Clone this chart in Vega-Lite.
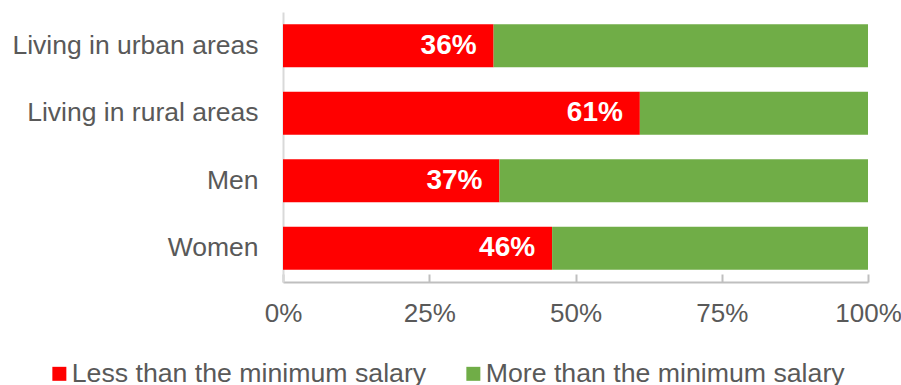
{
  "$schema": "https://vega.github.io/schema/vega-lite/v6.json",
  "width": 585,
  "height": 270,
  "autosize": {"type": "none"},
  "padding": {"left": 283, "top": 12, "right": 33, "bottom": 103},
  "background": "white",
  "config": {
    "view": {"stroke": null},
    "font": "Liberation Sans",
    "text": {"font": "Liberation Sans"}
  },
  "data": {
    "values": [
      {"group": "Living in urban areas", "type": "Less than the minimum salary", "value": 0.36},
      {"group": "Living in urban areas", "type": "More than the minimum salary", "value": 0.64},
      {"group": "Living in rural areas", "type": "Less than the minimum salary", "value": 0.61},
      {"group": "Living in rural areas", "type": "More than the minimum salary", "value": 0.39},
      {"group": "Men", "type": "Less than the minimum salary", "value": 0.37},
      {"group": "Men", "type": "More than the minimum salary", "value": 0.63},
      {"group": "Women", "type": "Less than the minimum salary", "value": 0.46},
      {"group": "Women", "type": "More than the minimum salary", "value": 0.54}
    ]
  },
  "encoding": {
    "y": {
      "field": "group",
      "type": "nominal",
      "sort": ["Living in urban areas", "Living in rural areas", "Men", "Women"],
      "scale": {"paddingInner": 0.365, "paddingOuter": 0.1825},
      "axis": {
        "title": null,
        "ticks": false,
        "labelFontSize": 26.5,
        "labelColor": "#595959",
        "labelPadding": 25,
        "labelLimit": 400,
        "domainColor": "#d9d9d9",
        "domainWidth": 2,
        "labelFont": "Liberation Sans"
      }
    }
  },
  "layer": [
    {
      "mark": {"type": "bar"},
      "encoding": {
        "x": {
          "field": "value",
          "type": "quantitative",
          "stack": "zero",
          "scale": {"domain": [0, 1], "nice": false},
          "axis": {
            "title": null,
            "values": [0, 0.25, 0.5, 0.75, 1],
            "format": ".0%",
            "grid": false,
            "labelFontSize": 26,
            "labelColor": "#595959",
            "labelFont": "Liberation Sans",
            "labelFlush": false,
            "labelOverlap": false,
            "labelBound": false,
            "labelPadding": 26,
            "tickSize": -8,
            "tickColor": "#bfbfbf",
            "tickWidth": 2,
            "domainColor": "#bfbfbf",
            "domainWidth": 2
          }
        },
        "color": {
          "field": "type",
          "type": "nominal",
          "scale": {
            "domain": ["Less than the minimum salary", "More than the minimum salary"],
            "range": ["#ff0000", "#70ad47"]
          },
          "legend": {
            "title": null,
            "orient": "none",
            "direction": "horizontal",
            "legendX": -237,
            "legendY": 348,
            "padding": 0,
            "symbolType": "square",
            "symbolSize": 196,
            "symbolStrokeWidth": 0,
            "symbolOpacity": 1,
            "labelFontSize": 26.7,
            "labelColor": "#595959",
            "labelFont": "Liberation Sans",
            "labelOffset": -1,
            "columnPadding": 33,
            "labelLimit": 500
          }
        },
        "order": {"field": "type", "sort": "ascending"}
      }
    },
    {
      "transform": [{"filter": "datum.type === 'Less than the minimum salary'"}],
      "mark": {
        "type": "text",
        "align": "right",
        "baseline": "middle",
        "dx": -17,
        "fontSize": 28,
        "fontWeight": "bold",
        "color": "white",
        "font": "Liberation Sans"
      },
      "encoding": {
        "x": {"field": "value", "type": "quantitative"},
        "text": {"field": "value", "type": "quantitative", "format": ".0%"}
      }
    }
  ]
}
